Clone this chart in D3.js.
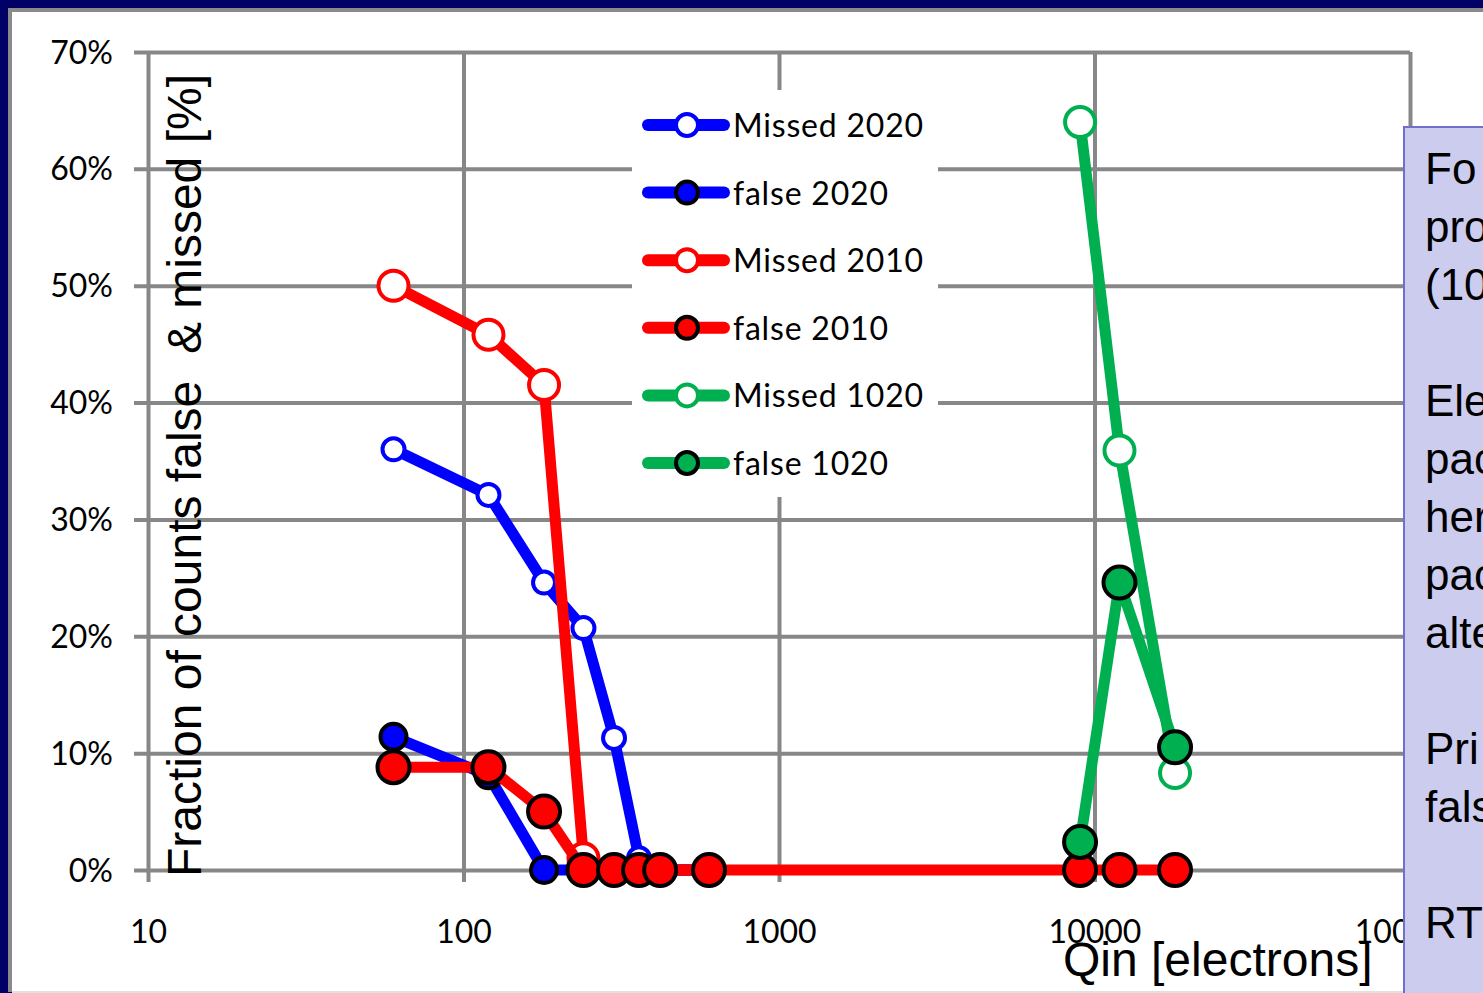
<!DOCTYPE html>
<html><head><meta charset="utf-8">
<script src="https://cdn.jsdelivr.net/npm/d3@7"></script>
<style>
html,body{margin:0;padding:0;background:#fff;overflow:hidden;}
svg{display:block;}
text{white-space:pre;}
</style></head>
<body>
<svg id="chart" width="1483" height="993"></svg>
<script>
// ---- data ----
const xTicks = [10, 100, 1000, 10000, 100000];
const xTickLabels = ["10", "100", "1000", "10000", "100000"];
const yTicks = [0, 0.1, 0.2, 0.3, 0.4, 0.5, 0.6, 0.7];
const yTickLabels = ["0%", "10%", "20%", "30%", "40%", "50%", "60%", "70%"];

const missed2020_x = [60, 120, 180, 240, 300, 360, 420, 600];
const missed2020_y = [0.360, 0.321, 0.246, 0.207, 0.113, 0.010, 0, 0];
const false2020_x = [60, 120, 180, 240, 300, 360, 420, 600];
const false2020_y = [0.114, 0.081, 0, 0, 0, 0, 0, 0];
const missed2010_x = [60, 120, 180, 240, 300, 360, 420, 600];
const missed2010_y = [0.500, 0.458, 0.415, 0.010, 0, 0, 0, 0];
const false2010_x = [60, 120, 180, 240, 300, 360, 420, 600, 9000, 12000, 18000];
const false2010_y = [0.088, 0.088, 0.050, 0, 0, 0, 0, 0, 0, 0, 0];
const missed1020_x = [9000, 12000, 18000];
const missed1020_y = [0.640, 0.359, 0.083];
const false1020_x = [9000, 12000, 18000];
const false1020_y = [0.024, 0.246, 0.105];

const seriesNames = ["Missed 2020", "false 2020", "Missed 2010", "false 2010", "Missed 1020", "false 1020"];
const seriesColors = ["#0000ff", "#0000ff", "#ff0000", "#ff0000", "#00b050", "#00b050"];

const panelLines = ["Fo", "pro", "(10", "", "Ele", "pac", "her", "pac", "alte", "", "Pri", "fals", "", "RT"];

const series = [
  {name: seriesNames[0], color: seriesColors[0], xs: missed2020_x, ys: missed2020_y, filled: false, r: 11},
  {name: seriesNames[1], color: seriesColors[1], xs: false2020_x, ys: false2020_y, filled: true, r: 13},
  {name: seriesNames[2], color: seriesColors[2], xs: missed2010_x, ys: missed2010_y, filled: false, r: 15},
  {name: seriesNames[3], color: seriesColors[3], xs: false2010_x, ys: false2010_y, filled: true, r: 16},
  {name: seriesNames[4], color: seriesColors[4], xs: missed1020_x, ys: missed1020_y, filled: false, r: 15},
  {name: seriesNames[5], color: seriesColors[5], xs: false1020_x, ys: false1020_y, filled: true, r: 16}
];

// ---- layout ----
const svg = d3.select("#chart");
const W = 1483, H = 993;
const pLeft = 148, pRight = 1410, pTop = 52, pBottom = 870;
const gridColor = "#878787";
const tickFont = "Lato, 'Open Sans', sans-serif";
const arial = "'Liberation Sans', Arial, sans-serif";

const x = d3.scaleLog().domain([10, 100000]).range([pLeft, pRight]);
const y = d3.scaleLinear().domain([0, 0.7]).range([pBottom, pTop]);

// outer frame
svg.append("rect").attr("x", 0).attr("y", 0).attr("width", W).attr("height", H).attr("fill", "#000066");
svg.append("rect").attr("x", 8).attr("y", 8).attr("width", W).attr("height", H - 8 - 1).attr("fill", "#8a8a8a");
svg.append("rect").attr("x", 12).attr("y", 12).attr("width", W).attr("height", H - 12 - 2).attr("fill", "#ffffff");
svg.append("rect").attr("x", 12).attr("y", H - 2).attr("width", W).attr("height", 2).attr("fill", "#e0e0e0");

// plot area border (light blue)
svg.append("rect").attr("x", pLeft).attr("y", pTop + 1).attr("width", pRight - pLeft).attr("height", pBottom - pTop)
  .attr("fill", "none").attr("stroke", "#95b3d7").attr("stroke-width", 2);

// horizontal gridlines with outside ticks
const gy = svg.append("g").attr("transform", `translate(${pLeft},0)`)
  .call(d3.axisLeft(y).tickValues(yTicks).tickSize(-(pRight - pLeft)).tickSizeOuter(0).tickFormat((d, i) => yTickLabels[i]));
gy.select(".domain").remove();
gy.selectAll(".tick line").attr("x1", -14).attr("stroke", gridColor).attr("stroke-width", 4);
gy.selectAll(".tick text").attr("x", -35).attr("dy", null).attr("y", 11)
  .attr("font-family", tickFont).attr("font-size", 32).attr("fill", "#000");

// vertical gridlines with outside ticks
const gx = svg.append("g").attr("transform", `translate(0,${pBottom})`)
  .call(d3.axisBottom(x).tickValues(xTicks).tickSize(-(pBottom - pTop)).tickSizeOuter(0).tickFormat((d, i) => xTickLabels[i]));
gx.select(".domain").remove();
gx.selectAll(".tick line").attr("y1", 12).attr("stroke", gridColor).attr("stroke-width", 4);
gx.selectAll(".tick text").attr("y", 73).attr("dy", null)
  .attr("font-family", tickFont).attr("font-size", 32).attr("fill", "#000");

// legend background (white, covers gridlines)
const legendG = svg.append("g");
legendG.append("rect").attr("x", 632).attr("y", 90).attr("width", 306).attr("height", 407).attr("fill", "#fff");

// axis titles
svg.append("text").attr("transform", `translate(201,${pBottom + 7}) rotate(-90)`)
  .attr("font-family", arial).attr("font-size", 48).attr("fill", "#000")
  .text("Fraction of counts false  & missed [%]");
svg.append("text").attr("x", 1063).attr("y", 976)
  .attr("font-family", arial).attr("font-size", 48).attr("fill", "#000")
  .text("Qin [electrons]");

// series
const lineGen = d3.line().x(d => x(d[0])).y(d => y(d[1]));
series.forEach(s => {
  const pts = s.xs.map((v, i) => [v, s.ys[i]]);
  const g = svg.append("g");
  g.append("path").attr("d", lineGen(pts)).attr("fill", "none")
    .attr("stroke", s.color).attr("stroke-width", 11).attr("stroke-linejoin", "round");
  g.selectAll("circle").data(pts).join("circle")
    .attr("cx", d => x(d[0])).attr("cy", d => y(d[1])).attr("r", s.r)
    .attr("fill", s.filled ? s.color : "#fff")
    .attr("stroke", s.filled ? "#000" : s.color).attr("stroke-width", 4);
});

// legend entries
const legendRowY = d3.scalePoint().domain(seriesNames).range([125, 463]);
series.forEach(s => {
  const cy = legendRowY(s.name);
  legendG.append("line").attr("x1", 648).attr("x2", 724).attr("y1", cy).attr("y2", cy)
    .attr("stroke", s.color).attr("stroke-width", 12).attr("stroke-linecap", "round");
  legendG.append("circle").attr("cx", 687).attr("cy", cy).attr("r", 11)
    .attr("fill", s.filled ? s.color : "#fff")
    .attr("stroke", s.filled ? "#000" : s.color).attr("stroke-width", 4);
  legendG.append("text").attr("x", 733).attr("y", cy + 12)
    .attr("font-family", tickFont).attr("font-size", 32).attr("letter-spacing", 0.8)
    .attr("fill", "#000").text(s.name);
});
svg.node().appendChild(legendG.node());

// right side note panel
const panel = svg.append("g");
panel.append("rect").attr("x", 1404).attr("y", 127).attr("width", 200).attr("height", 900)
  .attr("fill", "#ccccee").attr("stroke", "#7070cc").attr("stroke-width", 2);
const lineStep = 58;
panelLines.forEach((t, i) => {
  if (!t) return;
  panel.append("text").attr("x", 1425).attr("y", 184 + i * lineStep)
    .attr("font-family", arial).attr("font-size", 44).attr("fill", "#000").text(t);
});
</script>
</body></html>
